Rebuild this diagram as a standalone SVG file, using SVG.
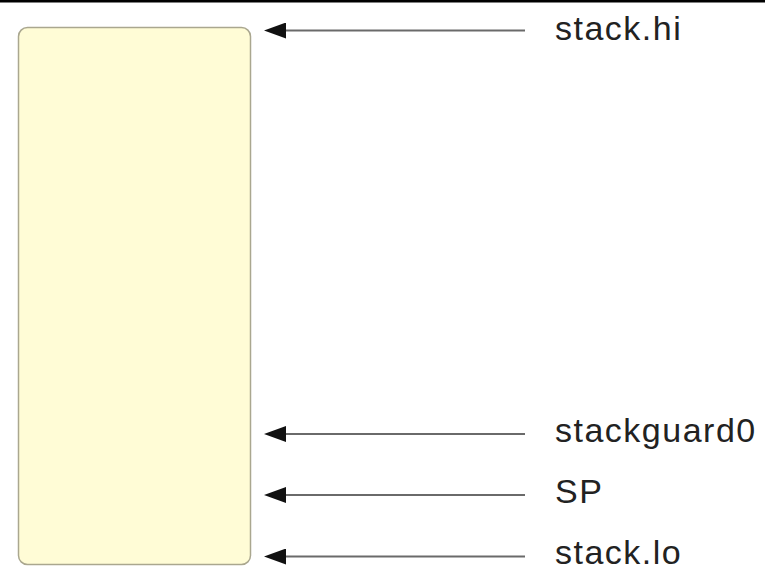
<svg xmlns="http://www.w3.org/2000/svg" width="765" height="586" viewBox="0 0 765 586">
<style>
.lbl{font-family:"Liberation Sans",Arial,sans-serif;font-size:34px;letter-spacing:1.5px;fill:#222;}
.conn{stroke:#6a6a6a;stroke-width:2;fill:none;}
</style>
<defs>
<marker id="ah" viewBox="0 0 22 16" refX="0" refY="8" markerWidth="22" markerHeight="16" markerUnits="userSpaceOnUse" orient="auto">
<path d="M0,0 L22,8 L0,16 Z" fill="#111"/>
</marker>
</defs>
<rect x="0" y="0" width="765" height="586" fill="#fff"/>
<rect x="0" y="0" width="765" height="2.5" fill="#000"/>
<g id="stack">
<rect x="18.5" y="27.5" width="232" height="537" rx="9" fill="#FFFCD6" stroke="#AAA78F" stroke-width="1.5"/>
</g>
<g id="connectors">
<line class="conn" x1="525" y1="30.5" x2="286" y2="30.5" marker-end="url(#ah)"/>
<line class="conn" x1="525" y1="434" x2="286" y2="434" marker-end="url(#ah)"/>
<line class="conn" x1="525" y1="495" x2="286" y2="495" marker-end="url(#ah)"/>
<line class="conn" x1="525" y1="556.5" x2="286" y2="556.5" marker-end="url(#ah)"/>
</g>
<g id="label-hi"><text class="lbl" x="555" y="40">stack.hi</text></g>
<g id="label-guard"><text class="lbl" x="555" y="442">stackguard0</text></g>
<g id="label-sp"><text class="lbl" x="555" y="503">SP</text></g>
<g id="label-lo"><text class="lbl" x="555" y="564">stack.lo</text></g>
</svg>
